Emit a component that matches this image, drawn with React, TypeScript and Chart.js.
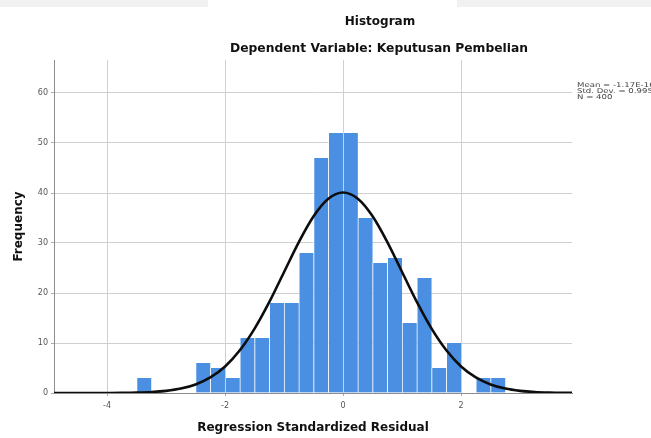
import React, { useEffect, useRef } from "react";
import { Chart, registerables } from "chart.js";

Chart.register(...registerables);

// ---- data ----
const chartTitle = "Histogram";
const chartSubtitle = "Dependent Variable: Keputusan Pembelian";
const xAxisTitle = "Regression Standardized Residual";
const yAxisTitle = "Frequency";
const statsLines = ["Mean = -1.17E-16", "Std. Dev. = 0.995", "N = 400"];

// histogram bins (centre of each 0.25-wide bin) and their counts
const binCenters = [
  -3.375, -2.375, -2.125, -1.875, -1.625, -1.375, -1.125, -0.875, -0.625, -0.375,
  -0.125, 0.125, 0.375, 0.625, 0.875, 1.125, 1.375, 1.625, 1.875, 2.375, 2.625,
];
const frequencies = [
  3, 6, 5, 3, 11, 11, 18, 18, 28, 47,
  52, 52, 35, 26, 27, 14, 23, 5, 10, 3, 3,
];

// normal curve
const curveX = [
  -5, -4.75, -4.5, -4.25, -4, -3.75, -3.5, -3.25, -3, -2.75, -2.5, -2.25, -2, -1.75,
  -1.5, -1.25, -1, -0.75, -0.5, -0.25, 0, 0.25, 0.5, 0.75, 1, 1.25, 1.5, 1.75, 2,
  2.25, 2.5, 2.75, 3, 3.25, 3.5, 3.75, 4,
];
const curveY = [
  0, 0, 0, 0, 0.01, 0.03, 0.08, 0.19, 0.43, 0.88, 1.71, 3.11, 5.31, 8.54,
  12.87, 18.21, 24.2, 30.18, 35.34, 38.84, 40.09, 38.84, 35.34, 30.18, 24.2, 18.21, 12.87, 8.54, 5.31,
  3.11, 1.71, 0.88, 0.43, 0.19, 0.08, 0.03, 0.01,
];

const xMin = -4.9;
const xMax = 3.88;
const yMin = 0;
const yMax = 66.6;
const xStep = 2;
const yStep = 10;

const textPlugin = {
  id: "spssText",
  afterDraw(chart: any) {
    const ctx = chart.ctx;
    ctx.save();
    ctx.fillStyle = "#111";
    ctx.textAlign = "center";
    ctx.textBaseline = "middle";
    ctx.font = "bold 12px 'DejaVu Sans'";
    ctx.fillText(chartTitle, 380, 22);
    ctx.font = "bold 12.3px 'DejaVu Sans'";
    ctx.fillText(chartSubtitle, 379, 49);
    ctx.fillStyle = "#444";
    ctx.textAlign = "left";
    statsLines.forEach((s, i) => {
      ctx.save();
      ctx.translate(577, 85 + i * 6);
      ctx.scale(1.3, 1);
      ctx.font = "6.6px 'DejaVu Sans'";
      ctx.fillText(s, 0, 0);
      ctx.restore();
    });
    ctx.restore();
  },
};

export default function App() {
  const ref = useRef<HTMLCanvasElement | null>(null);
  useEffect(() => {
    if (!ref.current) return;
    const tickFont = { family: "DejaVu Sans", size: 8 };
    const titleFont = { family: "DejaVu Sans", size: 12, weight: "bold" as const };
    const chart = new Chart(ref.current, {
      type: "bar",
      data: {
        datasets: [
          {
            type: "line",
            data: curveX.map((x, i) => ({ x, y: curveY[i] })),
            borderColor: "#0d0d0d",
            borderWidth: 2.6,
            pointRadius: 0,
            cubicInterpolationMode: "monotone",
            fill: false,
            order: 1,
          } as any,
          {
            type: "bar",
            data: binCenters.map((x, i) => ({ x, y: frequencies[i] })),
            backgroundColor: "#4b8fe2",
            borderColor: "rgba(255,255,255,0.55)",
            borderWidth: { left: 1, right: 0, top: 0, bottom: 0 },
            borderSkipped: false,
            barPercentage: 1,
            categoryPercentage: 1,
            order: 2,
          } as any,
        ],
      },
      options: {
        animation: false,
        responsive: false,
        maintainAspectRatio: false,
        layout: { padding: { top: 60, right: 79, bottom: 0, left: 0 } },
        plugins: {
          legend: { display: false },
          tooltip: { enabled: false },
          title: { display: false },
        },
        scales: {
          x: {
            type: "linear",
            min: xMin,
            max: xMax,
            offset: false,
            grid: { offset: false, color: "#d0d0d0", tickLength: 3, tickColor: "#aaa" },
            border: { color: "#8c8c8c" },
            ticks: {
              stepSize: xStep,
              includeBounds: false,
              padding: 5,
              maxRotation: 0,
              font: tickFont,
              color: "#555",
              callback: (v: any) => String(v),
            },
            title: {
              display: true,
              text: xAxisTitle,
              color: "#111",
              font: titleFont,
              padding: { top: 0, bottom: 3 },
            },
            afterFit: (s: any) => {
              s.height = 45;
            },
          },
          y: {
            type: "linear",
            min: yMin,
            max: yMax,
            grid: { color: "#d0d0d0", tickLength: 3, tickColor: "#aaa" },
            border: { color: "#8c8c8c" },
            ticks: {
              stepSize: yStep,
              includeBounds: false,
              padding: 3,
              font: tickFont,
              color: "#555",
            },
            title: {
              display: true,
              text: yAxisTitle,
              color: "#111",
              font: titleFont,
              padding: { top: 12, bottom: 0 },
            },
            afterFit: (s: any) => {
              s.width = 54;
            },
          },
        },
      } as any,
      plugins: [textPlugin],
    });
    return () => chart.destroy();
  }, []);

  return (
    <div style={{ position: "absolute", left: 0, top: 0, width: 651, height: 438, background: "#fff" }}>
      <canvas ref={ref} width={651} height={438} style={{ display: "block" }} />
      <div style={{ position: "absolute", left: 0, top: 0, width: 208, height: 7, background: "#f1f1f1" }} />
      <div style={{ position: "absolute", left: 457, top: 0, width: 194, height: 7, background: "#f1f1f1" }} />
    </div>
  );
}
